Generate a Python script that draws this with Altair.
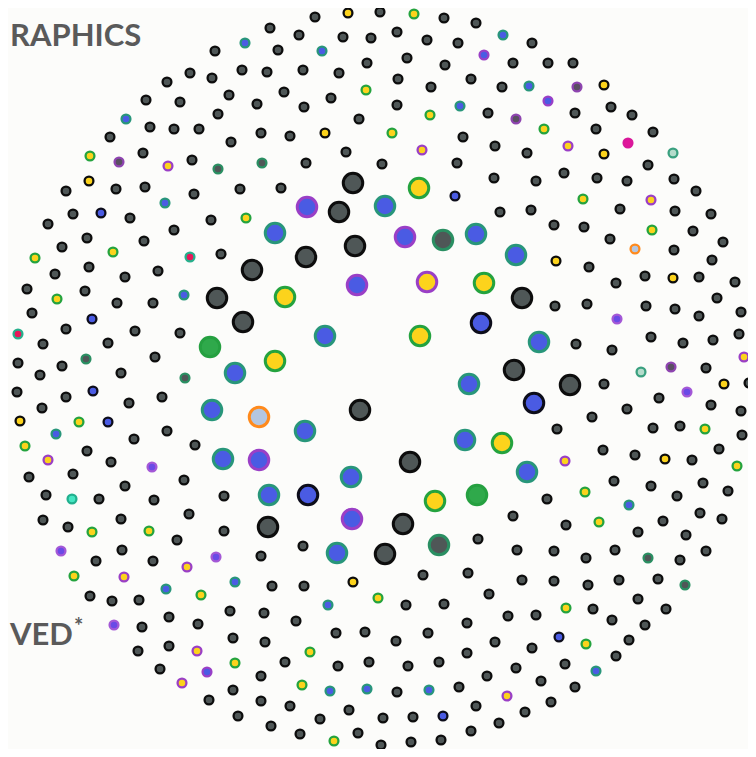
import altair as alt
import pandas as pd

# ---- dot positions (pixel coordinates of the picture) ----
K_SMALL = [
    (215,51),(190,73),(212,78),(242,70),(167,82),(229,95),(146,100),(180,102),(218,114),(150,127),
    (174,129),(199,129),(231,142),(110,137),(143,153),(192,160),(66,191),(116,189),(145,187),(194,194),
    (240,189),(73,214),(130,218),(48,224),(211,220),(174,230),(87,238),(144,241),(62,247),(221,254),
    (55,274),(89,267),(125,277),(158,271),(27,289),(85,291),(117,303),(153,303),(32,313),(66,329),
    (135,331),(180,333),(43,344),(108,343),(155,357),(18,363),(62,366),(40,375),(121,373),
    (17,392),(66,397),(129,403),(162,397),(42,408),(134,439),(167,431),(195,445),(87,451),(111,462),
    (29,477),(73,474),(184,480),(125,486),(46,495),(99,499),(154,500),(224,496),(43,520),(68,527),
    (121,519),(189,514),(224,531),(177,540),(122,550),(96,561),(153,561),(90,596),(112,601),(139,600),
    (169,617),(230,611),(142,627),(198,624),(233,638),(138,651),(169,646),(160,669),(233,690),(209,700),
    (238,716),
    (315,17),(380,12),(444,18),(476,23),(270,28),(299,35),(343,37),(371,38),(397,32),(427,40),
    (458,43),(278,50),(367,63),(407,58),(445,65),(267,72),(303,70),(339,73),(398,79),(431,87),
    (471,79),(502,87),(284,92),(331,98),(257,104),(304,107),(397,105),(488,113),(359,119),(261,133),
    (290,136),(463,137),(495,146),(346,152),(306,163),(382,164),(457,163),(494,178),(281,188),(500,212),
    (532,43),(513,63),(548,63),(573,63),(575,113),(611,107),(632,115),(596,129),(653,132),(527,153),
    (648,165),(536,181),(564,173),(597,178),(627,181),(674,179),(696,191),(531,210),(620,209),(675,211),
    (711,214),(554,225),(584,227),(610,239),(693,231),(723,242),(589,267),(674,250),(712,260),(616,283),
    (645,276),(699,277),(735,282),(555,306),(587,304),(646,306),(675,309),(699,316),(717,298),(741,312),
    (576,344),(612,350),(651,337),(683,343),(713,340),(739,334),(706,368),
    (604,384),(749,383),(659,398),(627,409),(711,405),(741,411),(592,417),(557,429),(653,428),(680,426),
    (742,435),(603,450),(635,455),(692,460),(719,449),(547,499),(614,481),(651,486),(677,496),(703,483),
    (728,491),(513,516),(566,525),(638,532),(663,521),(686,535),(700,513),(722,519),(517,550),(554,551),
    (586,558),(615,550),(680,560),(706,551),(522,580),(554,581),(588,585),(619,580),(658,579),(508,616),
    (536,615),(593,609),(638,599),(612,620),(666,609),(645,625),(532,648),(629,640),(516,668),(565,664),
    (616,656),(541,681),(575,687),(551,702),(525,712),
    (478,539),(261,556),(303,546),(272,586),(304,586),(423,575),(468,573),(406,605),(444,604),(489,594),
    (264,613),(296,621),(336,633),(365,632),(396,641),(428,633),(467,623),(265,642),(285,662),(338,666),
    (369,662),(408,666),(439,662),(467,653),(495,642),(261,676),(397,692),(459,687),(487,676),(261,701),
    (290,706),(320,719),(349,710),(383,718),(413,717),(476,706),(499,723),(271,726),(300,734),(358,733),
    (381,745),(411,742),(441,740),(471,731),
]
K_BIG = [(353,183),(339,212),(355,246),(306,257),(252,270),(217,298),(243,322),(522,298),(514,370),
         (570,385),(360,410),(410,462),(268,527),(403,524),(385,554)]
BT_BIG = [(385,206),(275,233),(476,234),(516,255),(325,336),(539,342),(235,373),(469,384),(212,410),
          (305,431),(465,440),(223,459),(527,472),(351,477),(269,495),(337,553)]
BP_BIG = [(307,207),(405,237),(357,285),(259,460),(352,519)]
YG_BIG = [(419,188),(484,283),(285,297),(420,336),(275,361),(502,443),(435,501)]
YP_BIG = [(427,282)]
BK_BIG = [(481,323),(534,403),(308,495)]
KT_BIG = [(443,240),(439,545)]
G_BIG = [(210,347),(477,495)]
O_BIG = [(259,417)]

BT_SMALL = [(245,43),(126,119),(165,203),(184,295),(322,51),(460,106),(503,35),(529,86),(56,434),
            (166,589),(235,582),(328,605),(330,691),(367,689),(429,690),(629,505),(596,671)]
YG_SMALL = [(90,156),(246,218),(113,252),(35,258),(57,299),(79,422),(25,446),(92,532),(149,531),
            (74,576),(201,595),(235,663),(414,14),(366,90),(430,115),(392,133),(544,129),(583,199),
            (652,230),(705,429),(737,466),(585,492),(599,522),(566,608),(586,644),(378,598),(310,652),
            (302,685),(334,741)]
YP_SMALL = [(168,166),(48,460),(187,567),(124,577),(197,651),(182,683),(422,150),(568,146),(651,200),
            (744,357),(565,461),(507,696)]
YK_SMALL = [(89,181),(20,421),(348,13),(325,133),(604,85),(604,154),(556,261),(673,278),(724,384),
            (665,459),(353,582)]
BK_SMALL = [(101,213),(92,319),(93,391),(108,422),(455,196),(559,637),(443,716)]
BP_SMALL = [(484,55),(548,101),(207,672)]
BV_SMALL = [(152,467),(61,551),(216,557),(114,625),(617,319),(687,392)]
KP_SMALL = [(119,162),(577,87),(516,119),(671,367)]
KT_SMALL = [(218,169),(86,359),(185,378),(262,163),(648,558),(685,585)]
RT_SMALL = [(190,257),(18,334)]
M_SMALL = [(628,143)]
LT_SMALL = [(673,153),(641,372)]
O_SMALL = [(635,249)]
CT_SMALL = [(72,499)]

TEXTS = ["RAPHICS", "VED", "*"]

# ---- styles (fill, stroke) ----
STYLES = {
    "K": ("#4f5757", "#0d0d0d"),
    "BT": ("#4a5be3", "#28967a"),
    "BP": ("#4a5be3", "#9a3fc6"),
    "BV": ("#6a4ae6", "#a458d6"),
    "BK": ("#4a5be3", "#0d0d1a"),
    "YG": ("#fcd31c", "#24a33e"),
    "YP": ("#fcd31c", "#9a3fc6"),
    "YK": ("#fcd31c", "#0d0d0d"),
    "KT": ("#4f5757", "#2a8f62"),
    "KP": ("#5a4f62", "#8e44b0"),
    "G": ("#2fa94b", "#25a040"),
    "O": ("#b4c6e0", "#ff8a1c"),
    "RT": ("#e8175a", "#26b08c"),
    "M": ("#e0169a", "#d8189a"),
    "LT": ("#b4dccb", "#3aa07f"),
    "CT": ("#44e6c2", "#22b08e"),
}

groups = [
    ("K", False, K_SMALL), ("BT", False, BT_SMALL), ("YG", False, YG_SMALL), ("YP", False, YP_SMALL),
    ("YK", False, YK_SMALL), ("BK", False, BK_SMALL), ("BP", False, BP_SMALL), ("BV", False, BV_SMALL),
    ("KP", False, KP_SMALL), ("KT", False, KT_SMALL), ("RT", False, RT_SMALL), ("M", False, M_SMALL),
    ("LT", False, LT_SMALL), ("O", False, O_SMALL), ("CT", False, CT_SMALL),
    ("K", True, K_BIG), ("BT", True, BT_BIG), ("BP", True, BP_BIG), ("YG", True, YG_BIG),
    ("YP", True, YP_BIG), ("BK", True, BK_BIG), ("KT", True, KT_BIG), ("G", True, G_BIG), ("O", True, O_BIG),
]

rows = []
for style, big, pts in groups:
    f, s = STYLES[style]
    for (px, py) in pts:
        rows.append(dict(x=px, y=py, fill=f, stroke=s,
                         size=380 if big else 78, sw=3.0 if big else 2.3))
df = pd.DataFrame(rows)

xs = alt.Scale(domain=[8, 748])
ys = alt.Scale(domain=[8, 749], reverse=True)

points = alt.Chart(df).mark_circle(opacity=1).encode(
    x=alt.X("x:Q", scale=xs, axis=None),
    y=alt.Y("y:Q", scale=ys, axis=None),
    fill=alt.Fill("fill:N", scale=None),
    stroke=alt.Stroke("stroke:N", scale=None),
    size=alt.Size("size:Q", scale=None),
    strokeWidth=alt.StrokeWidth("sw:Q", scale=None),
)

big_text = pd.DataFrame({"x": [10, 10], "y": [46, 645], "t": TEXTS[:2]})
star_text = pd.DataFrame({"x": [74], "y": [634], "t": TEXTS[2:]})

t1 = alt.Chart(big_text).mark_text(
    font="Lato", fontWeight="bold", fontSize=31, align="left", baseline="alphabetic", color="#5a5a5a"
).encode(x=alt.X("x:Q", scale=xs, axis=None), y=alt.Y("y:Q", scale=ys, axis=None), text="t:N")

t2 = alt.Chart(star_text).mark_text(
    font="Lato", fontWeight="bold", fontSize=22, align="left", baseline="alphabetic", color="#5a5a5a"
).encode(x=alt.X("x:Q", scale=xs, axis=None), y=alt.Y("y:Q", scale=ys, axis=None), text="t:N")

chart = alt.layer(points, t1, t2).properties(
    width=740, height=741, background="#fcfcfa", padding=0,
    autosize=alt.AutoSizeParams(type="none"),
).configure_view(strokeWidth=0)

chart.save("out.html", embed_options={"renderer": "svg", "actions": False})
